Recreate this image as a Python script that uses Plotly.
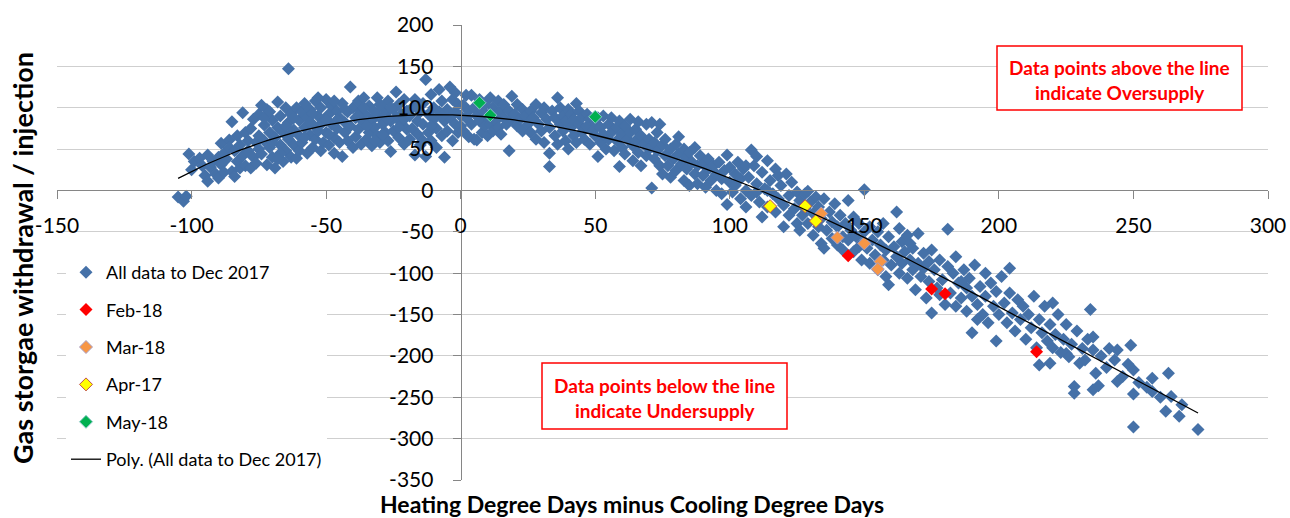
import plotly.graph_objects as go

# ---- data ----
blue_points = [
    (-105,-8),(-103,-13),(-102,-7),(-101,44),(-100,25),(-99,35),(-97,39),(-96,30),(-95,18),(-94,11),(-94,43),(-93,28),(-92,35),(-91,20),(-90,40),(-90,15),
    (-89,57),(-89,31),(-88,45),(-88,22),(-87,38),(-86,61),(-86,52),(-85,83),(-85,23),(-84,17),(-84,48),(-83,35),(-83,66),(-82,27),(-82,55),(-81,94),(-81,42),(-80,70),(-80,30),(-79,60),(-79,48),(-78,27),(-78,75),(-77,40),(-77,86),(-76,58),(-76,33),(-75,66),(-75,50),(-75,92),
    (-74,103),(-74,44),(-73,79),(-73,60),(-72,31),(-72,98),(-71,70),(-71,52),(-70,85),(-70,40),(-69,27),(-69,64),(-68,107),(-68,76),(-67,55),(-67,90),(-66,35),(-66,70),(-65,100),(-65,48),(-64,147),(-64,82),(-64,62),(-63,92),(-63,40),(-62,73),(-62,55),(-61,39),(-61,100),(-60,85),(-60,66),(-60,48),(-73,88),(-70,58),(-67,45),(-65,78),(-62,88),(-71,95),(-68,38),(-63,69),
    (-59,95),(-59,58),(-58,76),(-58,105),(-57,45),(-57,88),(-56,67),(-56,98),(-55,52),(-55,80),(-54,108),(-54,62),(-53,90),(-53,72),(-52,48),(-52,100),(-51,84),(-51,58),(-50,110),(-50,70),(-49,92),(-49,55),(-48,80),(-48,102),(-47,64),(-47,45),(-46,96),(-46,75),(-45,88),(-45,58),(-44,41),(-44,105),(-43,70),(-43,82),(-42,95),(-42,60),(-41,125),(-41,78),(-40,100),(-40,52),(-58,64),(-55,93),(-52,80),(-49,68),(-46,85),(-43,98),(-50,85),(-56,82),(-47,108),(-53,112),
    (-39,88),(-39,65),(-38,108),(-38,74),(-37,56),(-37,96),(-36,82),(-36,112),(-35,62),(-35,90),(-34,70),(-34,102),(-33,85),(-33,54),(-32,95),(-32,76),(-31,112),(-31,66),(-30,88),(-30,58),(-29,100),(-29,80),(-28,70),(-28,92),(-27,108),(-27,60),(-26,47),(-26,84),(-25,98),(-25,72),(-24,119),(-24,88),(-23,64),(-23,104),(-22,80),(-22,92),(-21,56),(-21,110),(-20,74),(-20,96),(-38,90),(-35,78),(-32,60),(-29,68),(-26,100),(-23,76),(-36,100),(-30,104),(-27,86),(-21,86),
    (-19,90),(-19,62),(-18,100),(-18,75),(-17,43),(-17,110),(-16,84),(-16,68),(-15,95),(-15,55),(-14,105),(-14,80),(-13,134),(-13,41),(-12,70),(-12,92),(-11,116),(-11,60),(-10,86),(-10,100),(-9,52),(-9,75),(-8,122),(-8,95),(-7,66),(-7,108),(-6,84),(-6,40),(-5,98),(-5,72),(-4,125),(-4,88),(-3,60),(-3,110),(-2,80),(-2,95),(-1,70),(-1,104),(0,90),(0,78),(-16,100),(-11,78),(-7,90),(-14,60),(-2,118),
    (1,103),(1,72),(2,88),(2,115),(3,65),(3,96),(4,115),(4,80),(5,62),(5,100),(6,61),(6,90),(7,84),(7,110),(8,70),(8,97),(9,104),(9,78),(10,88),(10,66),(11,112),(11,80),(12,100),(12,72),(13,92),(13,84),(14,108),(14,76),(15,96),(15,68),(16,88),(16,104),(17,80),(18,48),(18,96),(19,114),(19,86),(20,92),(21,104),(21,78),(22,86),(23,98),(23,72),(24,90),(25,80),
    (26,96),(26,70),(27,88),(28,104),(28,62),(29,80),(30,94),(30,72),(31,58),(31,100),(32,86),(33,45),(33,29),(33,76),(34,96),(35,66),(35,88),(36,112),(36,56),(37,80),(37,100),(38,72),(38,90),(39,60),(39,84),(40,98),(40,50),(41,76),(41,92),(42,66),(42,86),(43,105),(43,58),(44,80),(44,96),(45,70),(45,88),(46,62),(47,78),(47,92),(48,56),(48,86),(49,72),(50,66),(50,82),
    (51,41),(51,88),(52,76),(52,58),(53,90),(53,68),(54,50),(55,80),(55,62),(56,88),(56,70),(57,48),(58,76),(58,60),(59,29),(59,84),(60,68),(60,52),(61,78),(61,44),(62,62),(63,86),(63,70),(64,54),(64,36),(65,74),(65,60),(66,83),(66,46),(67,66),(67,30),(68,56),(69,80),(69,42),(70,62),(70,50),(71,82),(71,3),(72,58),(72,38),(73,70),(73,48),(74,80),(74,30),(75,55),(75,20),
    (76,42),(76,62),(77,30),(78,50),(78,16),(79,38),(80,56),(80,24),(81,65),(81,44),(82,32),(83,50),(83,12),(84,40),(84,26),(85,6),(85,46),(86,34),(87,20),(87,52),(88,30),(88,8),(89,42),(90,18),(90,32),(91,4),(92,26),(92,38),(93,12),(94,30),(95,20),(95,0),(96,34),(97,14),(97,-4),(98,24),(99,-17),(99,43),(100,10),(100,28),
    (101,-2),(102,20),(102,6),(103,34),(104,-10),(104,14),(105,26),(106,0),(106,-20),(107,16),(108,49),(108,-6),(109,30),(110,41),(110,8),(111,-14),(112,22),(112,-32),(113,2),(114,36),(114,-20),(115,12),(116,-4),(117,26),(117,-26),(118,-10),(119,6),(120,-44),(120,-18),(121,20),(122,-6),(122,-30),(123,10),(124,-22),(125,-2),(125,-40),(118,18),(110,-2),(106,30),(114,0),
    (126,-48),(126,-12),(127,-30),(128,-4),(128,-22),(129,-1),(129,-40),(130,-14),(131,-54),(131,-28),(132,-8),(133,-44),(133,-20),(134,-64),(134,-34),(135,-70),(135,-10),(136,-48),(137,-26),(138,-58),(138,-38),(139,-16),(140,-66),(140,-44),(141,-30),(142,-56),(142,-72),(143,-40),(144,-12),(144,-60),(145,-48),(146,-74),(146,-32),(147,-56),(148,-40),(148,-68),(149,-84),(150,1),(150,-50),(150,-62),
    (151,-70),(152,-44),(152,-88),(153,-60),(154,-78),(155,-50),(155,-96),(156,-66),(157,-40),(157,-84),(158,-72),(159,-114),(159,-56),(160,-90),(161,-68),(162,-26),(162,-80),(163,-100),(164,-62),(164,-88),(165,-74),(166,-106),(166,-54),(167,-84),(168,-96),(168,-70),(169,-120),(170,-52),(170,-88),(171,-104),(172,-76),(172,-94),(173,-130),(174,-86),(174,-110),(175,-148),(175,-72),(163,-46),(158,-104),(167,-64),
    (176,-96),(177,-118),(178,-84),(179,-108),(180,-138),(181,-47),(181,-92),(182,-124),(183,-100),(184,-140),(184,-80),(185,-112),(186,-130),(187,-96),(188,-146),(188,-118),(189,-106),(190,-172),(190,-128),(191,-90),(192,-138),(193,-116),(194,-150),(195,-100),(195,-128),(196,-160),(197,-112),(198,-140),(199,-182),(199,-122),(200,-150),(201,-104),(202,-136),(203,-160),(204,-94),(204,-124),(205,-148),(186,-110),(192,-156),(178,-126),
    (206,-170),(207,-132),(208,-156),(209,-140),(210,-180),(211,-150),(212,-166),(213,-128),(214,-190),(215,-156),(215,-211),(216,-172),(217,-140),(218,-182),(219,-209),(219,-162),(220,-136),(220,-190),(221,-174),(222,-150),(223,-196),(224,-180),(225,-197),(225,-162),(226,-201),(227,-186),(228,-237),(228,-245),(229,-170),(230,-209),(231,-191),(232,-205),(233,-180),(234,-144),(235,-193),
    (235,-177),(235,-241),(236,-221),(237,-236),(238,-200),(240,-214),(241,-191),(243,-205),(244,-193),(244,-231),(246,-225),(248,-210),(249,-187),(250,-217),(250,-246),(250,-286),(252,-232),(255,-238),(257,-227),(257,-243),(260,-250),(262,-267),(263,-221),(264,-249),(267,-273),(268,-259),(274,-289),
]
blue_x = [p[0] for p in blue_points]
blue_y = [p[1] for p in blue_points]

feb18_x = [144, 175, 180, 214]
feb18_y = [-79, -119, -125, -195]

mar18_x = [134, 140, 150, 156, 155]
mar18_y = [-28, -57, -64, -86, -95]

apr17_x = [115, 128, 132]
apr17_y = [-19, -19, -37]

may18_x = [7, 11, 50]
may18_y = [106, 91, 89]

# cubic trend coefficients (c0 + c1*x + c2*x^2 + c3*x^3)
trend_coef = [91.0, -0.1468, -0.0072, 1.073e-5]
trend_x_range = [-105, 274]

x_ticks = [-150, -100, -50, 0, 50, 100, 150, 200, 250, 300]
y_ticks = [-350, -300, -250, -200, -150, -100, -50, 0, 50, 100, 150, 200]

# ---- figure ----
FONT = "Lato"
BLUE = "#4571A8"

trend_x = list(range(trend_x_range[0], trend_x_range[1] + 1))
trend_y = [sum(c * (xx ** i) for i, c in enumerate(trend_coef)) for xx in trend_x]

fig = go.Figure()
msize = 10
fig.add_trace(go.Scatter(x=blue_x, y=blue_y, mode="markers", name="All data to Dec 2017",
                         legendgroup="a",
                         marker=dict(symbol="diamond", size=msize, color=BLUE, line=dict(width=0))))
fig.add_trace(go.Scatter(x=feb18_x, y=feb18_y, mode="markers", name="Feb-18", legendgroup="b",
                         marker=dict(symbol="diamond", size=msize, color="#FF0000", line=dict(width=0))))
fig.add_trace(go.Scatter(x=mar18_x, y=mar18_y, mode="markers", name="Mar-18", legendgroup="c",
                         marker=dict(symbol="diamond", size=msize, color="#F79646",
                                     line=dict(width=1, color="#A9A0C8"))))
fig.add_trace(go.Scatter(x=apr17_x, y=apr17_y, mode="markers", name="Apr-17", legendgroup="d",
                         marker=dict(symbol="diamond", size=msize, color="#FFFF00",
                                     line=dict(width=1, color="#C0504D"))))
fig.add_trace(go.Scatter(x=may18_x, y=may18_y, mode="markers", name="May-18", legendgroup="e",
                         marker=dict(symbol="diamond", size=msize, color="#00B050",
                                     line=dict(width=1, color="#8CC9C9"))))
fig.add_trace(go.Scatter(x=trend_x, y=trend_y, mode="lines", name="Poly. (All data to Dec 2017)",
                         legendgroup="f", line=dict(color="black", width=1.3)))

# body margin is removed by post_script, so figure pixels == screen pixels
W, H = 1290, 518
PL, PR, PT, PB = 57, 1268, 25, 480
L, T = PL, PT
R, B = W - PR, H - PB

def px2fx(px):
    return (px - PL) / (PR - PL)

def py2fy(py):
    return (PB - py) / (PB - PT)

fig.update_layout(
    width=W, height=H,
    margin=dict(l=L, r=R, t=T, b=B, pad=0, autoexpand=False),
    paper_bgcolor="white", plot_bgcolor="white",
    font=dict(family=FONT, color="black"),
    showlegend=True,
    legend=dict(x=px2fx(66), y=py2fy(254), xanchor="left", yanchor="top",
                bgcolor="white", borderwidth=0, font=dict(family=FONT, size=18),
                traceorder="grouped", tracegroupgap=11, itemwidth=30),
    xaxis=dict(range=[-150, 300], tickvals=x_ticks, ticktext=[str(v) for v in x_ticks],
               anchor="free", position=350 / 550, showgrid=False, zeroline=False,
               showline=True, linecolor="#868686", linewidth=1, automargin=False,
               ticks="outside", ticklen=8, tickcolor="#868686", tickwidth=1,
               tickfont=dict(family=FONT, size=21), ticklabelstandoff=8),
    yaxis=dict(range=[-350, 200], tickvals=y_ticks, ticktext=[str(v) for v in y_ticks],
               anchor="free", position=150 / 450, showgrid=True, gridcolor="#CFCFCF", gridwidth=1.3,
               zeroline=False, showline=True, linecolor="#868686", linewidth=1, automargin=False,
               ticks="outside", ticklen=8, tickcolor="#868686", tickwidth=1,
               tickfont=dict(family=FONT, size=21), ticklabelstandoff=15),
)

# axis titles as annotations
fig.add_annotation(text="<b>Gas storgae withdrawal / injection</b>", xref="paper", yref="paper",
                   x=px2fx(22), y=py2fy(258), textangle=-90, showarrow=False,
                   font=dict(family=FONT, size=27, color="black"), xanchor="center", yanchor="middle")
fig.add_annotation(text="<b>Heating Degree Days minus Cooling Degree Days</b>", xref="paper", yref="paper",
                   x=px2fx(632), y=py2fy(504), showarrow=False,
                   font=dict(family=FONT, size=23, color="black"), xanchor="center", yanchor="middle")

# note boxes
notes = [
    ((997, 46, 1242, 110), ["Data points above the line", "indicate Oversupply"], (67, 92)),
    ((542, 363, 787, 429), ["Data points below the line", "indicate Undersupply"], (385, 410)),
]
for (x0, y0, x1, y1), lines, ys in notes:
    fig.add_shape(type="rect", xref="paper", yref="paper",
                  x0=px2fx(x0), x1=px2fx(x1), y0=py2fy(y1), y1=py2fy(y0),
                  line=dict(color="#FF0000", width=1.5), fillcolor="white", layer="above")
    for txt, yy in zip(lines, ys):
        fig.add_annotation(text="<b>" + txt + "</b>", xref="paper", yref="paper",
                           x=px2fx((x0 + x1) / 2), y=py2fy(yy), showarrow=False,
                           font=dict(family=FONT, size=19, color="#FF0000"),
                           xanchor="center", yanchor="middle")

fig.write_html("out.html", config={"displayModeBar": False},
               post_script="document.body.style.margin='0';document.body.style.overflow='hidden';")
